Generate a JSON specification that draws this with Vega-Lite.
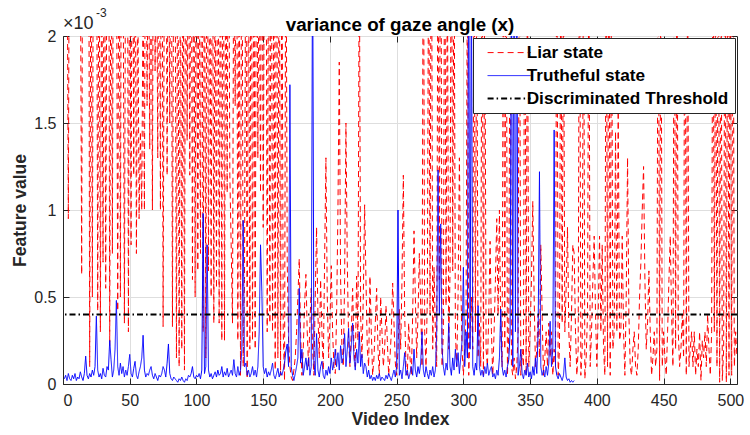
{
"$schema": "https://vega.github.io/schema/vega-lite/v6.json",
"width": 674, "height": 348,
"autosize": {"type": "none"},
"padding": {"left": 63, "top": 36, "right": 13, "bottom": 51},
"background": "white",
"config": {
  "view": {"stroke": "#262626", "strokeWidth": 1},
  "font": "Liberation Sans",
  "axis": {"labelFont": "Liberation Sans", "labelFontSize": 16, "labelColor": "#262626", "titleFont": "Liberation Sans", "titleFontSize": 17.5, "titleFontWeight": "bold", "titleColor": "#262626", "tickColor": "#262626", "domainColor": "#262626", "gridColor": "#dedede", "gridWidth": 1, "tickSize": -6, "tickWidth": 1},
  "legend": {"orient": "top-right", "offset": 2, "padding": 6, "rowPadding": 5, "fillColor": "white", "strokeColor": "#262626", "strokeWidth": 1, "symbolType": "stroke", "symbolSize": 1849, "symbolOffset": 21.5, "symbolStrokeWidth": 1, "labelFont": "Liberation Sans", "labelFontSize": 17.2, "labelFontWeight": "bold", "labelColor": "#000000", "labelOffset": 9, "labelLimit": 400}
},
"title": {"text": "variance of gaze angle (x)", "font": "Liberation Sans", "fontSize": 18.8, "fontWeight": "bold", "color": "#000000", "anchor": "middle", "offset": -28},
"datasets": {"d": [
{"x":1,"L":3.0,"T":0.03},{"x":2,"L":4.0,"T":0.05},{"x":3,"L":2.8,"T":0.02},{"x":4,"L":0.95,"T":0.06},{"x":5,"L":3.5,"T":0.03},{"x":6,"L":4.2,"T":0.02},{"x":7,"L":3.1,"T":0.05},{"x":8,"L":5.0,"T":0.03},{"x":9,"L":3.3,"T":0.06},{"x":10,"L":2.7,"T":0.02},
{"x":11,"L":4.5,"T":0.04},{"x":12,"L":3.0,"T":0.03},{"x":13,"L":2.6,"T":0.07},{"x":14,"L":0.63,"T":0.04},{"x":15,"L":3.8,"T":0.02},{"x":16,"L":4.6,"T":0.06},{"x":17,"L":3.2,"T":0.16},{"x":18,"L":2.9,"T":0.05},{"x":19,"L":4.0,"T":0.03},{"x":20,"L":0.1,"T":0.06},
{"x":21,"L":3.0,"T":0.04},{"x":22,"L":0.5,"T":0.08},{"x":23,"L":3.6,"T":0.05},{"x":24,"L":2.8,"T":0.1},{"x":25,"L":3.4,"T":0.39},{"x":26,"L":0.42,"T":0.08},{"x":27,"L":3.0,"T":0.04},{"x":28,"L":0.3,"T":0.06},{"x":29,"L":2.7,"T":0.03},{"x":30,"L":0.7,"T":0.09},
{"x":31,"L":3.3,"T":0.05},{"x":32,"L":0.55,"T":0.04},{"x":33,"L":2.9,"T":0.1},{"x":34,"L":4.0,"T":0.08},{"x":35,"L":0.22,"T":0.25},{"x":36,"L":3.1,"T":0.14},{"x":37,"L":0.75,"T":0.04},{"x":38,"L":3.6,"T":0.08},{"x":39,"L":4.4,"T":0.2},{"x":40,"L":2.8,"T":0.48},
{"x":41,"L":0.42,"T":0.1},{"x":42,"L":3.2,"T":0.05},{"x":43,"L":0.5,"T":0.12},{"x":44,"L":3.9,"T":0.06},{"x":45,"L":2.6,"T":0.1},{"x":46,"L":0.35,"T":0.04},{"x":47,"L":3.0,"T":0.08},{"x":48,"L":4.1,"T":0.05},{"x":49,"L":0.3,"T":0.1},{"x":50,"L":2.9,"T":0.17},
{"x":51,"L":0.8,"T":0.06},{"x":52,"L":3.4,"T":0.04},{"x":53,"L":1.2,"T":0.09},{"x":54,"L":3.0,"T":0.13},{"x":55,"L":0.75,"T":0.05},{"x":56,"L":2.4,"T":0.03},{"x":57,"L":0.95,"T":0.07},{"x":58,"L":1.45,"T":0.1},{"x":59,"L":1.0,"T":0.15},{"x":60,"L":2.3,"T":0.28},
{"x":61,"L":1.0,"T":0.08},{"x":62,"L":3.5,"T":0.04},{"x":63,"L":1.6,"T":0.06},{"x":64,"L":2.8,"T":0.05},{"x":65,"L":1.35,"T":0.08},{"x":66,"L":3.0,"T":0.1},{"x":67,"L":1.0,"T":0.05},{"x":68,"L":3.7,"T":0.03},{"x":69,"L":1.8,"T":0.06},{"x":70,"L":2.9,"T":0.04},
{"x":71,"L":1.3,"T":0.02},{"x":72,"L":3.3,"T":0.05},{"x":73,"L":1.0,"T":0.04},{"x":74,"L":3.9,"T":0.06},{"x":75,"L":0.33,"T":0.1},{"x":76,"L":2.7,"T":0.08},{"x":77,"L":3.5,"T":0.04},{"x":78,"L":1.2,"T":0.12},{"x":79,"L":3.0,"T":0.23},{"x":80,"L":1.5,"T":0.06},
{"x":81,"L":3.6,"T":0.03},{"x":82,"L":0.33,"T":0.02},{"x":83,"L":2.9,"T":0.04},{"x":84,"L":2.5,"T":0.03},{"x":85,"L":0.15,"T":0.02},{"x":86,"L":3.1,"T":0.01},{"x":87,"L":0.1,"T":0.03},{"x":88,"L":2.6,"T":0.02},{"x":89,"L":0.2,"T":0.04},{"x":90,"L":3.0,"T":0.02},
{"x":91,"L":0.08,"T":0.01},{"x":92,"L":3.4,"T":0.03},{"x":93,"L":1.4,"T":0.02},{"x":94,"L":2.8,"T":0.05},{"x":95,"L":1.2,"T":0.04},{"x":96,"L":3.2,"T":0.06},{"x":97,"L":0.6,"T":0.1},{"x":98,"L":2.9,"T":0.04},{"x":99,"L":0.5,"T":0.03},{"x":100,"L":3.5,"T":0.05},
{"x":101,"L":0.65,"T":0.04},{"x":102,"L":2.7,"T":0.06},{"x":103,"L":0.75,"T":0.03},{"x":104,"L":3.3,"T":0.08},{"x":105,"L":0.3,"T":0.98},{"x":106,"L":2.9,"T":0.06},{"x":107,"L":0.15,"T":0.1},{"x":108,"L":3.6,"T":0.8},{"x":109,"L":0.65,"T":0.08},{"x":110,"L":2.8,"T":0.04},
{"x":111,"L":0.5,"T":0.06},{"x":112,"L":3.1,"T":0.03},{"x":113,"L":0.35,"T":0.05},{"x":114,"L":2.6,"T":0.07},{"x":115,"L":0.55,"T":0.04},{"x":116,"L":3.4,"T":0.08},{"x":117,"L":0.35,"T":0.05},{"x":118,"L":2.9,"T":0.06},{"x":119,"L":0.25,"T":0.1},{"x":120,"L":3.7,"T":0.04},
{"x":121,"L":0.25,"T":0.07},{"x":122,"L":2.8,"T":0.05},{"x":123,"L":1.1,"T":0.09},{"x":124,"L":3.2,"T":0.04},{"x":125,"L":1.2,"T":0.06},{"x":126,"L":0.8,"T":0.08},{"x":127,"L":0.35,"T":0.05},{"x":128,"L":2.9,"T":0.14},{"x":129,"L":1.6,"T":0.06},{"x":130,"L":3.3,"T":0.04},
{"x":131,"L":0.25,"T":0.1},{"x":132,"L":2.7,"T":0.05},{"x":133,"L":0.05,"T":0.08},{"x":134,"L":3.5,"T":0.2},{"x":135,"L":0.1,"T":0.94},{"x":136,"L":0.6,"T":0.1},{"x":137,"L":3.0,"T":0.12},{"x":138,"L":0.03,"T":0.05},{"x":139,"L":2.8,"T":0.08},{"x":140,"L":0.2,"T":0.04},
{"x":141,"L":3.4,"T":0.06},{"x":142,"L":0.25,"T":0.1},{"x":143,"L":2.9,"T":0.05},{"x":144,"L":0.2,"T":0.08},{"x":145,"L":3.1,"T":0.04},{"x":146,"L":1.3,"T":0.1},{"x":147,"L":2.7,"T":0.3},{"x":148,"L":1.1,"T":0.8},{"x":149,"L":3.6,"T":0.53},{"x":150,"L":0.9,"T":0.1},
{"x":151,"L":2.8,"T":0.06},{"x":152,"L":3.3,"T":0.09},{"x":153,"L":0.3,"T":0.04},{"x":154,"L":2.9,"T":0.07},{"x":155,"L":0.35,"T":0.05},{"x":156,"L":3.2,"T":0.08},{"x":157,"L":0.3,"T":0.12},{"x":158,"L":2.6,"T":0.05},{"x":159,"L":0.08,"T":0.03},{"x":160,"L":3.5,"T":0.06},
{"x":161,"L":0.15,"T":0.09},{"x":162,"L":3.0,"T":0.04},{"x":163,"L":0.05,"T":0.07},{"x":164,"L":2.8,"T":0.05},{"x":165,"L":0.3,"T":0.08},{"x":166,"L":0.02,"T":0.12},{"x":167,"L":3.0,"T":0.19},{"x":168,"L":0.7,"T":0.23},{"x":169,"L":0.25,"T":0.1},{"x":170,"L":0.1,"T":1.72},
{"x":171,"L":0.04,"T":0.1},{"x":172,"L":0.02,"T":0.05},{"x":173,"L":0.08,"T":0.02},{"x":174,"L":0.15,"T":0.06},{"x":175,"L":0.3,"T":0.1},{"x":176,"L":0.5,"T":0.15},{"x":177,"L":0.72,"T":0.55},{"x":178,"L":0.3,"T":0.12},{"x":179,"L":0.05,"T":0.2},{"x":180,"L":0.2,"T":0.05},
{"x":181,"L":0.45,"T":0.1},{"x":182,"L":0.63,"T":0.15},{"x":183,"L":0.3,"T":0.08},{"x":184,"L":0.1,"T":0.15},{"x":185,"L":0.35,"T":0.05},{"x":186,"L":0.55,"T":0.1},{"x":187,"L":0.2,"T":2.6},{"x":188,"L":0.05,"T":0.12},{"x":189,"L":0.5,"T":0.05},{"x":190,"L":0.9,"T":0.29},
{"x":191,"L":0.4,"T":0.08},{"x":192,"L":0.15,"T":0.04},{"x":193,"L":0.6,"T":0.1},{"x":194,"L":0.3,"T":0.13},{"x":195,"L":0.08,"T":0.05},{"x":196,"L":0.7,"T":0.03},{"x":197,"L":1.3,"T":0.08},{"x":198,"L":0.5,"T":0.05},{"x":199,"L":0.15,"T":0.1},{"x":200,"L":0.35,"T":0.06},
{"x":201,"L":0.68,"T":0.15},{"x":202,"L":0.3,"T":0.08},{"x":203,"L":0.1,"T":0.12},{"x":204,"L":0.06,"T":0.2},{"x":205,"L":0.4,"T":0.1},{"x":206,"L":1.0,"T":0.18},{"x":207,"L":1.85,"T":0.08},{"x":208,"L":0.6,"T":0.22},{"x":209,"L":0.2,"T":0.12},{"x":210,"L":0.1,"T":0.15},
{"x":211,"L":0.6,"T":0.29},{"x":212,"L":1.5,"T":0.1},{"x":213,"L":0.7,"T":0.2},{"x":214,"L":0.25,"T":0.32},{"x":215,"L":0.1,"T":0.12},{"x":216,"L":0.3,"T":0.22},{"x":217,"L":0.55,"T":0.35},{"x":218,"L":0.2,"T":0.15},{"x":219,"L":0.1,"T":0.08},{"x":220,"L":0.62,"T":0.2},
{"x":221,"L":0.25,"T":0.12},{"x":222,"L":2.6,"T":0.3},{"x":223,"L":0.4,"T":0.1},{"x":224,"L":0.15,"T":0.17},{"x":225,"L":0.5,"T":0.06},{"x":226,"L":1.03,"T":0.12},{"x":227,"L":0.6,"T":0.1},{"x":228,"L":0.2,"T":0.04},{"x":229,"L":0.1,"T":0.08},{"x":230,"L":0.62,"T":0.03},
{"x":231,"L":0.3,"T":0.05},{"x":232,"L":0.05,"T":0.02},{"x":233,"L":0.15,"T":0.04},{"x":234,"L":0.35,"T":0.02},{"x":235,"L":0.55,"T":0.05},{"x":236,"L":0.2,"T":0.03},{"x":237,"L":0.05,"T":0.06},{"x":238,"L":0.5,"T":0.02},{"x":239,"L":0.3,"T":0.04},{"x":240,"L":0.1,"T":0.03},
{"x":241,"L":0.2,"T":0.02},{"x":242,"L":0.45,"T":0.05},{"x":243,"L":0.25,"T":0.03},{"x":244,"L":0.05,"T":0.06},{"x":245,"L":0.15,"T":0.04},{"x":246,"L":0.3,"T":0.02},{"x":247,"L":0.58,"T":0.05},{"x":248,"L":0.35,"T":0.08},{"x":249,"L":0.12,"T":0.04},{"x":250,"L":0.05,"T":0.1},
{"x":251,"L":0.2,"T":1.0},{"x":252,"L":0.43,"T":0.05},{"x":253,"L":0.2,"T":0.08},{"x":254,"L":0.6,"T":0.03},{"x":255,"L":1.2,"T":0.1},{"x":256,"L":0.4,"T":0.18},{"x":257,"L":0.1,"T":0.05},{"x":258,"L":0.05,"T":0.08},{"x":259,"L":0.35,"T":0.03},{"x":260,"L":0.15,"T":0.06},
{"x":261,"L":0.05,"T":0.1},{"x":262,"L":0.4,"T":0.05},{"x":263,"L":0.88,"T":0.2},{"x":264,"L":0.5,"T":0.08},{"x":265,"L":0.15,"T":0.04},{"x":266,"L":0.4,"T":0.1},{"x":267,"L":0.75,"T":0.06},{"x":268,"L":0.45,"T":0.12},{"x":269,"L":0.1,"T":0.3},{"x":270,"L":3.0,"T":0.08},
{"x":271,"L":0.3,"T":0.04},{"x":272,"L":0.1,"T":0.1},{"x":273,"L":0.5,"T":0.06},{"x":274,"L":2.8,"T":0.03},{"x":275,"L":0.4,"T":0.08},{"x":276,"L":3.2,"T":0.05},{"x":277,"L":0.2,"T":0.1},{"x":278,"L":0.67,"T":0.04},{"x":279,"L":0.3,"T":0.08},{"x":280,"L":0.1,"T":0.3},
{"x":281,"L":2.9,"T":1.23},{"x":282,"L":0.6,"T":0.4},{"x":283,"L":3.5,"T":0.92},{"x":284,"L":0.1,"T":0.2},{"x":285,"L":0.3,"T":0.1},{"x":286,"L":3.0,"T":0.05},{"x":287,"L":0.45,"T":0.12},{"x":288,"L":2.5,"T":0.08},{"x":289,"L":0.2,"T":0.35},{"x":290,"L":0.65,"T":0.1},
{"x":291,"L":3.1,"T":0.05},{"x":292,"L":0.65,"T":0.15},{"x":293,"L":2.7,"T":0.08},{"x":294,"L":0.3,"T":0.2},{"x":295,"L":0.1,"T":0.1},{"x":296,"L":0.5,"T":0.18},{"x":297,"L":1.3,"T":0.06},{"x":298,"L":0.6,"T":0.15},{"x":299,"L":0.2,"T":0.25},{"x":300,"L":0.05,"T":0.67},
{"x":301,"L":0.2,"T":0.1},{"x":302,"L":0.4,"T":0.3},{"x":303,"L":2.5,"T":0.15},{"x":304,"L":0.05,"T":2.7},{"x":305,"L":0.3,"T":0.2},{"x":306,"L":0.5,"T":2.4},{"x":307,"L":0.2,"T":0.1},{"x":308,"L":2.8,"T":0.05},{"x":309,"L":0.3,"T":0.12},{"x":310,"L":2.4,"T":0.08},
{"x":311,"L":0.15,"T":0.45},{"x":312,"L":0.35,"T":0.1},{"x":313,"L":0.1,"T":0.05},{"x":314,"L":3.0,"T":0.08},{"x":315,"L":0.05,"T":0.04},{"x":316,"L":2.5,"T":0.1},{"x":317,"L":0.2,"T":0.06},{"x":318,"L":0.1,"T":0.12},{"x":319,"L":0.4,"T":0.05},{"x":320,"L":0.82,"T":0.08},
{"x":321,"L":0.3,"T":0.1},{"x":322,"L":0.05,"T":0.04},{"x":323,"L":0.3,"T":0.06},{"x":324,"L":0.6,"T":0.03},{"x":325,"L":0.95,"T":0.08},{"x":326,"L":0.4,"T":0.05},{"x":327,"L":1.0,"T":0.15},{"x":328,"L":0.3,"T":0.43},{"x":329,"L":0.1,"T":0.1},{"x":330,"L":2.7,"T":0.05},
{"x":331,"L":0.2,"T":0.08},{"x":332,"L":3.0,"T":0.04},{"x":333,"L":0.05,"T":0.1},{"x":334,"L":0.3,"T":0.14},{"x":335,"L":2.6,"T":0.3},{"x":336,"L":0.1,"T":2.5},{"x":337,"L":0.05,"T":0.1},{"x":338,"L":0.15,"T":2.8},{"x":339,"L":0.03,"T":0.3},{"x":340,"L":0.1,"T":2.6},
{"x":341,"L":0.3,"T":0.05},{"x":342,"L":2.8,"T":0.1},{"x":343,"L":0.05,"T":0.2},{"x":344,"L":0.2,"T":0.06},{"x":345,"L":0.1,"T":0.03},{"x":346,"L":3.0,"T":0.08},{"x":347,"L":0.05,"T":0.05},{"x":348,"L":2.5,"T":0.12},{"x":349,"L":0.1,"T":0.04},{"x":350,"L":0.3,"T":0.07},
{"x":351,"L":0.6,"T":0.03},{"x":352,"L":1.05,"T":0.1},{"x":353,"L":0.5,"T":0.05},{"x":354,"L":0.1,"T":0.15},{"x":355,"L":0.2,"T":0.06},{"x":356,"L":0.4,"T":0.3},{"x":357,"L":0.15,"T":1.22},{"x":358,"L":0.8,"T":0.1},{"x":359,"L":0.4,"T":0.05},{"x":360,"L":0.05,"T":0.08},
{"x":361,"L":0.15,"T":0.04},{"x":362,"L":0.3,"T":0.1},{"x":363,"L":0.1,"T":0.05},{"x":364,"L":0.35,"T":0.12},{"x":365,"L":0.15,"T":0.36},{"x":366,"L":0.3,"T":0.1},{"x":367,"L":0.05,"T":0.2},{"x":368,"L":0.2,"T":1.46},{"x":369,"L":0.1,"T":0.1},{"x":370,"L":2.9,"T":0.05},
{"x":371,"L":0.05,"T":0.03},{"x":372,"L":0.2,"T":0.06},{"x":373,"L":2.6,"T":0.04},{"x":374,"L":0.35,"T":0.02},{"x":375,"L":2.4,"T":0.05},{"x":376,"L":0.3,"T":0.15},{"x":377,"L":0.55,"T":0.04},{"x":378,"L":0.9,"T":0.02},{"x":379,"L":0.3,"T":0.03},{"x":380,"L":0.1,"T":0.01},
{"x":381,"L":0.4,"T":0.02},{"x":382,"L":0.8,"T":0.01},{"x":383,"L":0.75,"T":0.02},{"x":384,"L":0.3},{"x":385,"L":0.05},{"x":386,"L":0.2},{"x":387,"L":3.0},{"x":388,"L":0.05},{"x":389,"L":0.2},{"x":390,"L":2.7},
{"x":391,"L":0.03},{"x":392,"L":0.15},{"x":393,"L":0.4},{"x":394,"L":2.6},{"x":395,"L":0.1},{"x":396,"L":0.3},{"x":397,"L":0.6},{"x":398,"L":0.85},{"x":399,"L":0.4},{"x":400,"L":0.1},
{"x":401,"L":0.4},{"x":402,"L":0.85},{"x":403,"L":0.3},{"x":404,"L":0.8},{"x":405,"L":0.2},{"x":406,"L":0.05},{"x":407,"L":2.8},{"x":408,"L":0.1},{"x":409,"L":3.0},{"x":410,"L":0.05},
{"x":411,"L":2.5},{"x":412,"L":0.2},{"x":413,"L":0.3},{"x":414,"L":1.45},{"x":415,"L":0.3},{"x":416,"L":1.6},{"x":417,"L":0.25},{"x":418,"L":0.3},{"x":419,"L":0.85},{"x":420,"L":0.3},
{"x":421,"L":0.05},{"x":422,"L":0.5},{"x":423,"L":1.3},{"x":424,"L":0.4},{"x":425,"L":0.1},{"x":426,"L":0.05},{"x":427,"L":0.2},{"x":428,"L":0.3},{"x":429,"L":0.1},{"x":430,"L":0.05},
{"x":431,"L":0.2},{"x":432,"L":0.5},{"x":433,"L":0.7},{"x":434,"L":1.0},{"x":435,"L":1.25},{"x":436,"L":0.6},{"x":437,"L":0.2},{"x":438,"L":0.35},{"x":439,"L":0.65},{"x":440,"L":0.3},
{"x":441,"L":0.05},{"x":442,"L":0.15},{"x":443,"L":0.3},{"x":444,"L":0.1},{"x":445,"L":0.2},{"x":446,"L":3.0},{"x":447,"L":0.02},{"x":448,"L":2.7},{"x":449,"L":0.1},{"x":450,"L":0.3},
{"x":451,"L":0.15},{"x":452,"L":0.05},{"x":453,"L":0.3},{"x":454,"L":0.6},{"x":455,"L":0.85},{"x":456,"L":0.4},{"x":457,"L":0.1},{"x":458,"L":2.8},{"x":459,"L":0.2},{"x":460,"L":2.6},
{"x":461,"L":0.3},{"x":462,"L":0.1},{"x":463,"L":0.2},{"x":464,"L":0.4},{"x":465,"L":0.15},{"x":466,"L":3.0},{"x":467,"L":0.05},{"x":468,"L":2.5},{"x":469,"L":0.1},{"x":470,"L":0.2},
{"x":471,"L":0.3},{"x":472,"L":0.1},{"x":473,"L":0.3},{"x":474,"L":0.05},{"x":475,"L":0.2},{"x":476,"L":0.1},{"x":477,"L":0.3},{"x":478,"L":0.02},{"x":479,"L":0.25},{"x":480,"L":0.15},
{"x":481,"L":0.3},{"x":482,"L":0.1},{"x":483,"L":0.4},{"x":484,"L":0.2},{"x":485,"L":0.05},{"x":486,"L":0.3},{"x":487,"L":2.9},{"x":488,"L":0.3},{"x":489,"L":2.5},{"x":490,"L":0.1},
{"x":491,"L":3.0},{"x":492,"L":0.01},{"x":493,"L":2.7},{"x":494,"L":0.02},{"x":495,"L":0.2},{"x":496,"L":2.9},{"x":497,"L":0.01},{"x":498,"L":2.6},{"x":499,"L":0.05},{"x":500,"L":2.8},
{"x":501,"L":0.05},{"x":502,"L":3.0},{"x":503,"L":0.1},{"x":504,"L":0.3},{"x":505,"L":0.15}
]},
"layer": [
 {"layer": [
  {"data": {"name": "d"},
   "mark": {"type": "line", "strokeWidth": 1, "clip": true},
   "encoding": {
    "x": {"field": "x", "type": "quantitative", "title": "Video Index", "scale": {"domain": [0, 505], "nice": false, "zero": false},
          "axis": {"orient": "bottom", "values": [0,50,100,150,200,250,300,350,400,450,500], "format": "d", "grid": true, "labelPadding": 14, "titlePadding": 2}},
    "y": {"field": "L", "type": "quantitative", "title": "Feature value", "scale": {"domain": [0, 2], "nice": false},
          "axis": {"orient": "left", "values": [0,0.5,1,1.5,2], "format": "~g", "grid": true, "labelPadding": 13, "titlePadding": 4}},
    "color": {"datum": "Liar state", "scale": {"domain": ["Liar state", "Trutheful state", "Discriminated Threshold"], "range": ["#ff0000", "#0000ff", "#000000"]},
              "legend": {"title": null, "symbolType": "stroke", "symbolSize": 1849, "symbolOffset": 21.5, "labelOffset": 9, "encode": {"symbols": {"update": {"strokeWidth": {"signal": "datum.value === 'Discriminated Threshold' ? 2 : 1"}}}}}},
    "strokeDash": {"datum": "Liar state", "scale": {"domain": ["Liar state", "Trutheful state", "Discriminated Threshold"], "range": [[6,4],[1,0],[6,3,1.5,3]]}, "legend": {"title": null, "symbolType": "stroke", "symbolSize": 1849, "symbolOffset": 21.5, "labelOffset": 9}}
   }},
  {"data": {"name": "d"},
   "mark": {"type": "line", "strokeWidth": 1, "clip": true},
   "encoding": {
    "x": {"field": "x", "type": "quantitative", "title": "Video Index", "scale": {"domain": [0, 505], "nice": false, "zero": false}},
    "y": {"field": "T", "type": "quantitative", "title": "Feature value", "scale": {"domain": [0, 2], "nice": false}},
    "color": {"datum": "Trutheful state"},
    "strokeDash": {"datum": "Trutheful state"}
   }},
  {"data": {"values": [{"thr": 0.4}]},
   "mark": {"type": "rule", "strokeWidth": 2, "clip": true},
   "encoding": {
    "y": {"field": "thr", "type": "quantitative", "title": "Feature value", "scale": {"domain": [0, 2], "nice": false}},
    "color": {"datum": "Discriminated Threshold"},
    "strokeDash": {"datum": "Discriminated Threshold"}
   }},
  {"data": {"values": [{}]},
   "mark": {"type": "text", "align": "left", "baseline": "alphabetic", "dx": 0, "dy": -7, "fontSize": 18, "font": "Liberation Sans", "color": "#262626"},
   "encoding": {
    "x": {"datum": 0, "type": "quantitative", "title": "Video Index"},
    "y": {"datum": 2, "type": "quantitative", "title": "Feature value"},
    "text": {"value": "×10"}
   }},
  {"data": {"values": [{}]},
   "mark": {"type": "text", "align": "left", "baseline": "alphabetic", "dx": 33, "dy": -19, "fontSize": 12, "font": "Liberation Sans", "color": "#262626"},
   "encoding": {
    "x": {"datum": 0, "type": "quantitative", "title": "Video Index"},
    "y": {"datum": 2, "type": "quantitative", "title": "Feature value"},
    "text": {"value": "-3"}
   }}
 ]},
 {"data": {"values": [{}]},
  "mark": {"type": "point", "opacity": 0},
  "encoding": {
   "x": {"datum": 0, "type": "quantitative", "scale": {"domain": [0, 505], "nice": false, "zero": false},
         "axis": {"orient": "top", "title": null, "labels": false, "grid": false, "domain": false, "values": [0,50,100,150,200,250,300,350,400,450,500]}},
   "y": {"datum": 0, "type": "quantitative", "scale": {"domain": [0, 2], "nice": false},
         "axis": {"orient": "right", "title": null, "labels": false, "grid": false, "domain": false, "values": [0,0.5,1,1.5,2]}}
  }}
],
"resolve": {"axis": {"x": "independent", "y": "independent"}}
}
